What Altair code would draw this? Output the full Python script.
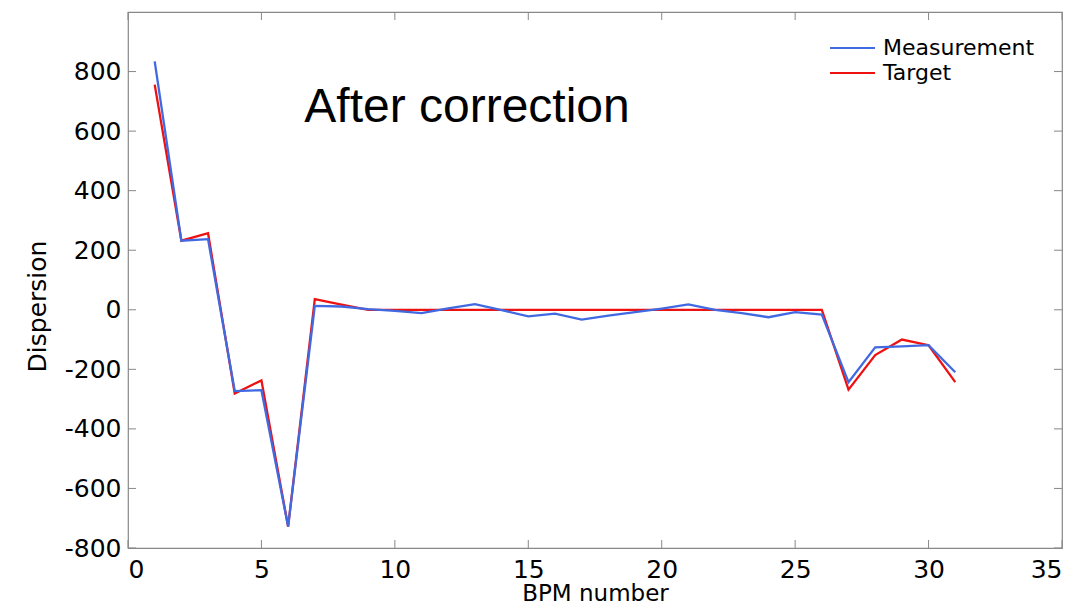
import altair as alt
import pandas as pd

bpm = list(range(1, 32))
measurement = [834, 232, 237, -273, -270, -728, 13, 11, 2, -4, -11, 5, 19, -1, -22,
               -13, -33, -20, -8, 4, 18, 0, -11, -25, -8, -16, -243, -126, -123, -119, -210]
target = [756, 232, 257, -281, -237, -728, 36, 17, 0, 0, 0, 0, 0, 0, 0,
          0, 0, 0, 0, 0, 0, 0, 0, 0, 0, 0, -268, -152, -100, -119, -243]
series_names = ["Measurement", "Target"]
series_colors = ["#4169E1", "#EE1111"]
x_ticks = [0, 5, 10, 15, 20, 25, 30, 35]
y_ticks = [-800, -600, -400, -200, 0, 200, 400, 600, 800]
annotation = ["After correction"]

W, H = 934, 536

df_m = pd.DataFrame({"bpm": bpm, "value": measurement, "series": "Measurement"})
df_t = pd.DataFrame({"bpm": bpm, "value": target, "series": "Target"})
df_xt = pd.DataFrame({"t": x_ticks})
df_yt = pd.DataFrame({"t": y_ticks})

xscale = alt.Scale(domain=[0, 35], nice=False, zero=False)
yscale = alt.Scale(domain=[-800, 1000], nice=False, zero=False)
cscale = alt.Scale(domain=series_names, range=series_colors)
color = alt.Color("series:N", scale=cscale, legend=None)

xaxis = alt.Axis(values=x_ticks, title="BPM number", grid=False, ticks=False, domain=False,
                 labelFont="DejaVu Sans", labelFontSize=25, labelColor="black",
                 labelPadding=9, labelFlush=True, labelExpr="'' + datum.value",
                 titleFont="DejaVu Sans", titleFontSize=23, titleFontWeight="normal",
                 titleColor="black", titlePadding=0)
yaxis = alt.Axis(values=y_ticks, title="Dispersion", grid=False, ticks=False, domain=False,
                 labelFont="DejaVu Sans", labelFontSize=25, labelColor="black",
                 labelPadding=7, labelExpr="'' + datum.value",
                 titleFont="DejaVu Sans", titleFontSize=25, titleFontWeight="normal",
                 titleColor="black", titleX=-91, titleY=294, titleAlign="center",
                 titleBaseline="middle", titleAngle=270)

line_t = alt.Chart(df_t).mark_line(strokeWidth=2.3).encode(
    x=alt.X("bpm:Q", scale=xscale, axis=xaxis),
    y=alt.Y("value:Q", scale=yscale, axis=yaxis),
    color=color,
)
line_m = alt.Chart(df_m).mark_line(strokeWidth=2.3).encode(
    x=alt.X("bpm:Q", scale=xscale),
    y=alt.Y("value:Q", scale=yscale),
    color=color,
)

tick_color = "#888888"
bottom_ticks = alt.Chart(df_xt).mark_rule(color=tick_color, strokeWidth=1).encode(
    x=alt.X("t:Q", scale=xscale), y=alt.value(H), y2=alt.value(H - 8))
top_ticks = alt.Chart(df_xt).mark_rule(color=tick_color, strokeWidth=1).encode(
    x=alt.X("t:Q", scale=xscale), y=alt.value(0), y2=alt.value(8))
left_ticks = alt.Chart(df_yt).mark_rule(color=tick_color, strokeWidth=1).encode(
    y=alt.Y("t:Q", scale=yscale), x=alt.value(0), x2=alt.value(8))
right_ticks = alt.Chart(df_yt).mark_rule(color=tick_color, strokeWidth=1).encode(
    y=alt.Y("t:Q", scale=yscale), x=alt.value(W), x2=alt.value(W - 8))

# manual legend (two entries)
leg_m_line = alt.Chart(pd.DataFrame({"series": [series_names[0]]})).mark_rule(strokeWidth=2).encode(
    x=alt.value(702), x2=alt.value(747), y=alt.value(36), color=color)
leg_t_line = alt.Chart(pd.DataFrame({"series": [series_names[1]]})).mark_rule(strokeWidth=2).encode(
    x=alt.value(702), x2=alt.value(747), y=alt.value(61), color=color)
leg_m_text = alt.Chart(pd.DataFrame({"series": [series_names[0]]})).mark_text(
    font="DejaVu Sans", fontSize=22, color="black", align="left", baseline="middle"
).encode(text="series:N", x=alt.value(755), y=alt.value(36))
leg_t_text = alt.Chart(pd.DataFrame({"series": [series_names[1]]})).mark_text(
    font="DejaVu Sans", fontSize=22, color="black", align="left", baseline="middle"
).encode(text="series:N", x=alt.value(755), y=alt.value(61))

title_text = alt.Chart(pd.DataFrame({"label": annotation})).mark_text(
    font="Liberation Sans", fontSize=48, color="black", align="center", baseline="alphabetic"
).encode(text="label:N", x=alt.value(339), y=alt.value(110))

chart = alt.layer(
    bottom_ticks, top_ticks, left_ticks, right_ticks, line_t, line_m,
    leg_m_line, leg_t_line, leg_m_text, leg_t_text, title_text
).properties(
    width=W, height=H,
    autosize=alt.AutoSizeParams(type="none"),
    padding={"left": 120, "top": 4, "right": 6, "bottom": 60},
    background="white",
).configure_view(
    stroke="#888888", strokeWidth=1.2
)

chart.save("out.html", embed_options={"renderer": "svg", "actions": False})
